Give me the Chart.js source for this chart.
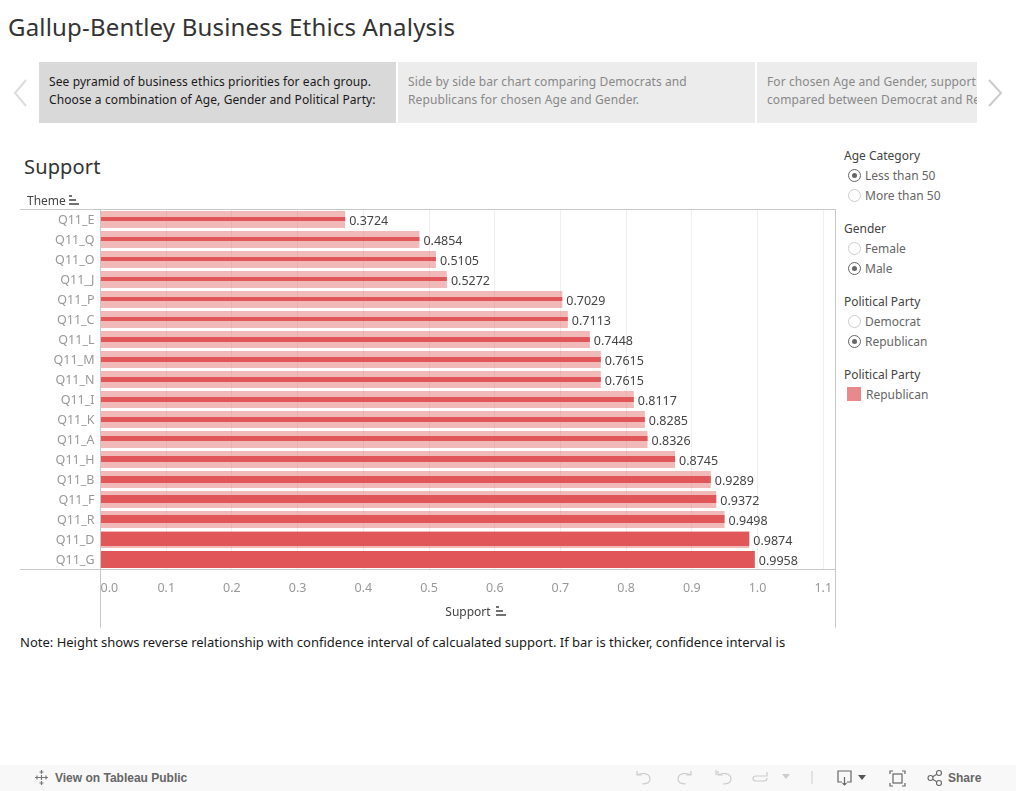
<!DOCTYPE html>
<html>
<head>
<meta charset="utf-8">
<title>Gallup-Bentley Business Ethics Analysis</title>
<script src="https://cdn.jsdelivr.net/npm/chart.js@4"></script>
<style>
  html, body { margin: 0; padding: 0; background: #fff; overflow: hidden; }
  body { width: 1016px; height: 791px; position: relative; font-family: "Noto Sans", sans-serif; color: #333; }
  .abs { position: absolute; white-space: nowrap; }
  #title { left: 8px; top: 12px; font-size: 24px; letter-spacing: .18px; line-height: 30px; color: #333; }
  .tab { position: absolute; top: 62px; height: 61px; overflow: hidden; font-size: 12px; letter-spacing: .1px; line-height: 18px; box-sizing: border-box; padding: 11px 0 0 10px; white-space: nowrap; }
  .tab.on { background: #d9d9d9; color: #1a1a1a; }
  .tab.off { background: #ececec; color: #888; }
  #sheet { left: 24px; top: 155px; font-size: 20px; letter-spacing: .15px; line-height: 24px; color: #333; }
  #note { left: 20px; top: 634px; font-size: 13px; line-height: 16px; color: #1a1a1a; }
  #chartBox { position: absolute; left: 0; top: 190px; width: 840px; height: 440px; }
  #supportChart { display: block; }
  .fhead { position: absolute; left: 844px; font-size: 12px; line-height: 16px; color: #444; white-space: nowrap; }
  .fopt { position: absolute; left: 865px; font-size: 12px; line-height: 16px; color: #666; white-space: nowrap; }
  .radio { position: absolute; left: 848px; width: 11px; height: 11px; border: 1px solid #ccc; border-radius: 50%; background: #fff; }
  .radio.on { border-color: #666; }
  .radio.on::after { content: ""; position: absolute; left: 3px; top: 3px; width: 5px; height: 5px; border-radius: 50%; background: #666; }
  #toolbar { position: absolute; left: 0; top: 765px; width: 1016px; height: 26px; background: #f8f8f8; }
  .tool { position: absolute; font-size: 12px; line-height: 16px; color: #666; font-weight: 700; white-space: nowrap; font-family: "Liberation Sans", sans-serif; }
  svg { position: absolute; overflow: visible; }
</style>
</head>
<body>
<div class="abs" id="title">Gallup-Bentley Business Ethics Analysis</div>

<svg style="left:12px;top:79px" width="18" height="28"><path d="M14 1 L3 14 L14 27" fill="none" stroke="#ddd" stroke-width="2"/></svg>
<div class="tab on" style="left:39px;width:357px">See pyramid of business ethics priorities for each group.<br>Choose a combination of Age, Gender and Political Party:</div>
<div class="tab off" style="left:398px;width:357px">Side by side bar chart comparing Democrats and<br>Republicans for chosen Age and Gender.</div>
<div class="tab off" style="left:757px;width:220px">For chosen Age and Gender, support per theme<br>compared between Democrat and Republican.</div>
<svg style="left:987px;top:79px" width="18" height="28"><path d="M2 1 L14 14 L2 27" fill="none" stroke="#ccc" stroke-width="2"/></svg>

<div class="abs" id="sheet">Support</div>
<div id="chartBox"><canvas id="supportChart" width="840" height="440"></canvas></div>
<div class="abs" style="left:27px;top:193px;font-size:12px;line-height:16px;color:#444">Theme</div>
<svg style="left:69px;top:195px" width="12" height="10"><path d="M0 1h3M0 5h7M0 9h10" stroke="#444" stroke-width="1.5"/></svg>
<svg style="left:496px;top:606px" width="12" height="10"><path d="M0 1h3M0 5h7M0 9h10" stroke="#444" stroke-width="1.5"/></svg>
<div class="abs" id="note">Note: Height shows reverse relationship with confidence interval of calcualated support. If bar is thicker, confidence interval is</div>

<div class="fhead" style="top:148px">Age Category</div>
<span class="radio on" style="top:169px"></span><div class="fopt" style="top:168px">Less than 50</div>
<span class="radio" style="top:189px"></span><div class="fopt" style="top:188px">More than 50</div>
<div class="fhead" style="top:221px">Gender</div>
<span class="radio" style="top:242px"></span><div class="fopt" style="top:241px">Female</div>
<span class="radio on" style="top:262px"></span><div class="fopt" style="top:261px">Male</div>
<div class="fhead" style="top:294px">Political Party</div>
<span class="radio" style="top:315px"></span><div class="fopt" style="top:314px">Democrat</div>
<span class="radio on" style="top:335px"></span><div class="fopt" style="top:334px">Republican</div>
<div class="fhead" style="top:367px">Political Party</div>
<span class="abs" style="left:847px;top:387px;width:14px;height:14px;background:#e88a8c"></span><div class="fopt" style="left:866px;top:387px">Republican</div>

<div id="toolbar">
  <svg style="left:33px;top:4px" width="18" height="18"><g stroke="#777" stroke-width="1.2" fill="none"><path d="M8.5 1v4M6.5 3h4M8.5 12v4M6.5 14h4M2 8.5h4M4 6.5v4M11 8.5h4M13 6.5v4M8.5 6v5M6 8.5h5"/></g></svg>
  <div class="tool" style="left:55px;top:5px">View on Tableau Public</div>
  <svg style="left:635px;top:5px" width="20" height="16"><path d="M2 1v4h5M2 5c3-2 13-3 13 4 0 4-4 5-8 5" fill="none" stroke="#ccc" stroke-width="1.2"/></svg>
  <svg style="left:675px;top:5px" width="20" height="16"><path d="M16 1v4h-5M16 5c-3-2-13-3-13 4 0 4 4 5 8 5" fill="none" stroke="#ccc" stroke-width="1.2"/></svg>
  <svg style="left:715px;top:5px" width="20" height="16"><path d="M1 0v5M3 1v4h5M3 5c3-2 13-3 13 4 0 4-4 5-8 5" fill="none" stroke="#ccc" stroke-width="1.2"/></svg>
  <svg style="left:751px;top:5px" width="20" height="16"><path d="M16 2v4h-4M16 6H5c-4 0-4 5 0 5h8c2 0 3-1 3-3" fill="none" stroke="#ccc" stroke-width="1.2"/></svg>
  <svg style="left:782px;top:9px" width="9" height="6"><path d="M0 0h8L4 5z" fill="#ccc"/></svg>
  <svg style="left:811px;top:5px" width="2" height="16"><path d="M1 1v13" stroke="#ccc"/></svg>
  <svg style="left:837px;top:5px" width="18" height="18"><path d="M5 12H1V1h13v11h-4M7.5 7v8M5.5 13l2 2 2-2" fill="none" stroke="#666" stroke-width="1.2"/></svg>
  <svg style="left:858px;top:10px" width="9" height="6"><path d="M0 0h8L4 5z" fill="#555"/></svg>
  <svg style="left:889px;top:5px" width="17" height="17"><path d="M1 4V1h3M13 1h3v3M16 13v3h-3M4 16H1v-3" fill="none" stroke="#666" stroke-width="1.2"/><rect x="4" y="4" width="9" height="9" fill="none" stroke="#666" stroke-width="1.2"/></svg>
  <svg style="left:927px;top:5px" width="16" height="16"><g fill="none" stroke="#666" stroke-width="1.1"><circle cx="3.5" cy="8" r="2.5"/><circle cx="12" cy="3" r="2.5"/><circle cx="12" cy="13" r="2.5"/><path d="M5.7 6.7l4-2.4M5.7 9.3l4 2.4"/></g></svg>
  <div class="tool" style="left:948px;top:5px">Share</div>
</div>

<script>
// top row to bottom row
const themes = ["Q11_E","Q11_Q","Q11_O","Q11_J","Q11_P","Q11_C","Q11_L","Q11_M","Q11_N","Q11_I","Q11_K","Q11_A","Q11_H","Q11_B","Q11_F","Q11_R","Q11_D","Q11_G"];
const support = [0.3724,0.4854,0.5105,0.5272,0.7029,0.7113,0.7448,0.7615,0.7615,0.8117,0.8285,0.8326,0.8745,0.9289,0.9372,0.9498,0.9874,0.9958];
// thickness of the inner bar (goes with the confidence interval)
const innerHeight = [4,4,4,4,4,4,5,5,5,5,5,5,6,7,8,8,14,17];
const xTicks = [0,0.1,0.2,0.3,0.4,0.5,0.6,0.7,0.8,0.9,1.0,1.1];
const xMax = 1.1187;

const darkRed = "#e15759";
const lightRed = "rgba(225,87,89,0.42)";
const lineGray = "#c8c8c8";
const fontName = '"Noto Sans", sans-serif';

// light bar with a fixed height behind, one dark bar per row on top
const datasets = [{ data: support, backgroundColor: lightRed, barThickness: 17, inflateAmount: 0, grouped: false, order: 2 }];
themes.forEach((t, i) => {
  datasets.push({
    data: themes.map((_, j) => (j === i ? support[i] : null)),
    backgroundColor: darkRed,
    barThickness: innerHeight[i],
    inflateAmount: 0,
    grouped: false,
    order: 1
  });
});

// value labels and the frame lines that run past the plot
const extras = {
  id: "extras",
  afterDatasetsUpdate(chart) {
    // even heights would land on half pixels and blur
    themes.forEach((t, i) => {
      const bar = chart.getDatasetMeta(i + 1).data[i];
      bar.y = Math.floor(bar.y - bar.height / 2) + bar.height / 2;
    });
  },
  afterDatasetsDraw(chart) {
    const ctx = chart.ctx;
    const meta = chart.getDatasetMeta(0);
    ctx.save();
    ctx.font = "12.5px " + fontName;
    ctx.fillStyle = "#444";
    ctx.textBaseline = "middle";
    meta.data.forEach((bar, i) => ctx.fillText(support[i].toFixed(4), bar.x + 4, bar.y + 1.5));
    const a = chart.chartArea;
    ctx.strokeStyle = lineGray;
    ctx.lineWidth = 1;
    ctx.beginPath();
    ctx.moveTo(20, a.top); ctx.lineTo(a.right, a.top);
    ctx.moveTo(20, a.bottom); ctx.lineTo(a.right, a.bottom);
    ctx.moveTo(a.left, a.top); ctx.lineTo(a.left, a.bottom + 58);
    ctx.moveTo(a.right, a.top); ctx.lineTo(a.right, a.bottom + 58);
    ctx.stroke();
    ctx.restore();
  }
};

new Chart(document.getElementById("supportChart"), {
  type: "bar",
  data: { labels: themes, datasets },
  plugins: [extras],
  options: {
    indexAxis: "y",
    responsive: false,
    animation: false,
    devicePixelRatio: 1,
    layout: { padding: { left: 20, right: 4.5, top: 19.5, bottom: 0 } },
    plugins: { legend: { display: false }, tooltip: { enabled: false } },
    scales: {
      x: {
        min: 0,
        max: xMax,
        afterBuildTicks: axis => { axis.ticks = xTicks.concat(xMax).map(value => ({ value })); },
        afterFit: axis => { axis.height = 60.5; axis.paddingLeft = 0; axis.paddingRight = 0; },
        grid: { color: "#efefef", drawTicks: false },
        border: { display: false },
        ticks: {
          autoSkip: false,
          maxRotation: 0,
          align: "inner",
          padding: 11,
          color: "#999",
          font: { family: fontName, size: 12.5 },
          callback: v => (xTicks.includes(v) ? v.toFixed(1) : "")
        },
        title: { display: true, text: "Support", color: "#444", font: { family: fontName, size: 12 }, padding: { top: 8, bottom: 10 } }
      },
      y: {
        afterFit: axis => { axis.width = 80.5; axis.paddingTop = 0; axis.paddingBottom = 0; },
        grid: { display: false, drawTicks: false },
        border: { display: false },
        ticks: { color: "#999", padding: 6, labelOffset: 1, font: { family: fontName, size: 12.5 } }
      }
    }
  }
});
</script>
</body>
</html>
